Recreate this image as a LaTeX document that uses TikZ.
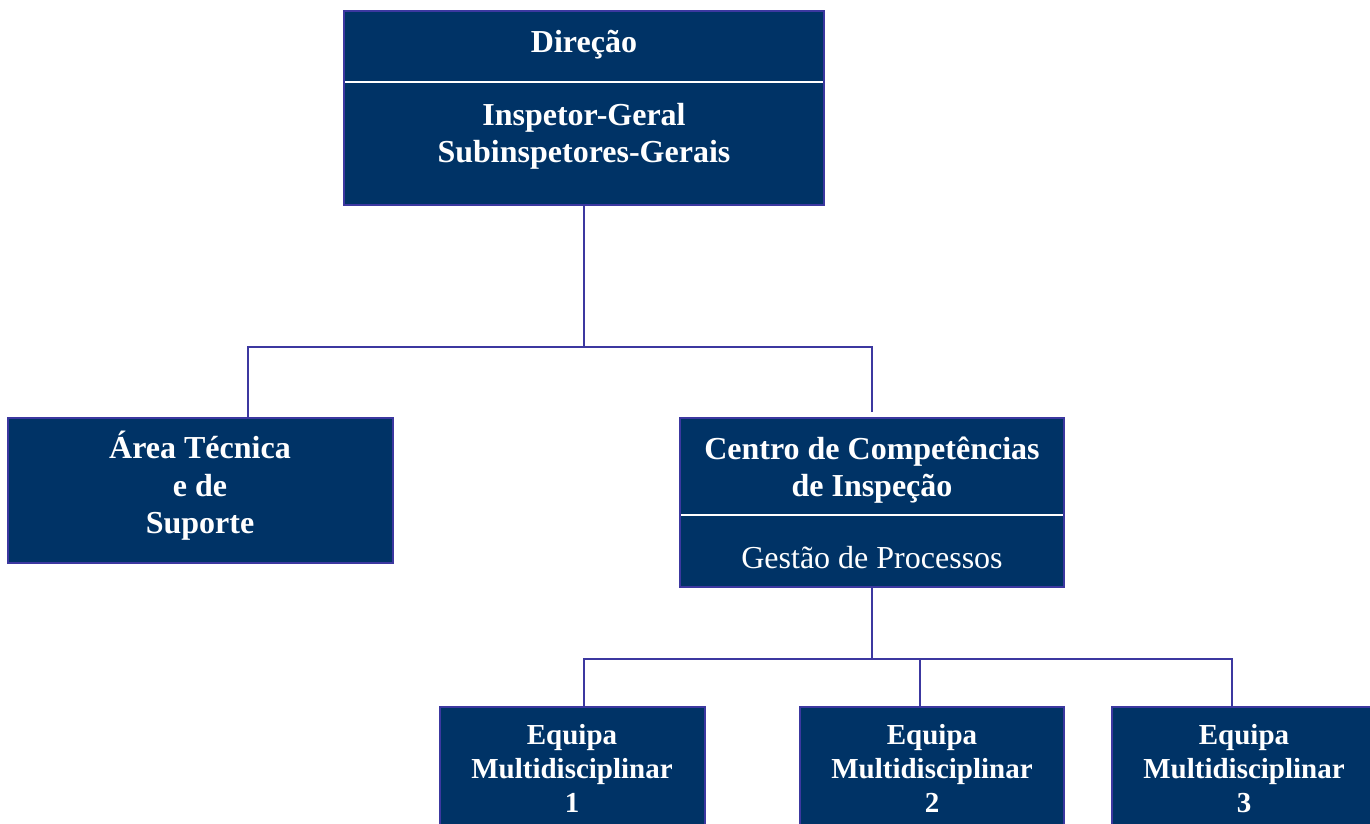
\documentclass[tikz,border=0pt]{standalone}
\usepackage{fontspec}
\setmainfont{Liberation Serif}
\definecolor{boxfill}{RGB}{0,51,102}
\definecolor{boxline}{RGB}{60,56,160}
\tikzset{
  box/.style={draw=boxline, line width=1.8pt, fill=boxfill, inner sep=0pt, outer sep=0pt, anchor=north west},
  lbl/.style={text=white, anchor=base, align=center, inner sep=0pt, font=\bfseries\fontsize{32}{37}\selectfont},
  lblreg/.style={text=white, anchor=base, align=center, inner sep=0pt, font=\fontsize{32}{37}\selectfont},
  lblsm/.style={text=white, anchor=base, inner sep=0pt, font=\bfseries\fontsize{29}{34}\selectfont},
  conn/.style={draw=boxline, line width=1.8pt},
  divider/.style={draw=white, line width=1.8pt}
}
\begin{document}
\begin{tikzpicture}[x=1pt, y=-1pt]
\useasboundingbox[fill=white] (0,0) rectangle (1370,823);
\clip (0,0) rectangle (1370,823);
% boxes
\node[box, minimum width=480pt, minimum height=194pt] (dir) at (344,11) {};
\node[box, minimum width=385pt, minimum height=145pt] (area) at (8,418) {};
\node[box, minimum width=384pt, minimum height=169pt] (cen) at (680,418) {};
\node[box, minimum width=265pt, minimum height=140pt] (b1) at (440,707) {};
\node[box, minimum width=264pt, minimum height=140pt] (b2) at (800,707) {};
\node[box, minimum width=264pt, minimum height=140pt] (b3) at (1112,707) {};
% dividers
\draw[divider] ([xshift=1pt]dir.west |- 0,82) -- ([xshift=-1pt]dir.east |- 0,82);
\draw[divider] ([xshift=1pt]cen.west |- 0,515) -- ([xshift=-1pt]cen.east |- 0,515);
% texts
\node[lbl] (tdir) at (584,52) {Direção};
\node[lbl] (tig) at (584,125) {Inspetor-Geral};
\node[lbl] (tsig) at (584,162) {Subinspetores-Gerais};
\node[lbl] (ta1) at (200,458) {Área Técnica};
\node[lbl] (ta2) at (200,496) {e de};
\node[lbl] (ta3) at (200,533) {Suporte};
\node[lbl] (tc1) at (872,459) {Centro de Competências};
\node[lbl] (tc2) at (872,496) {de Inspeção};
\node[lblreg] (tc3) at (872,568) {Gestão de Processos};
\foreach \n/\cx in {1/572, 2/932, 3/1244}{
  \node[lblsm] (te\n a) at (\cx,744) {Equipa};
  \node[lblsm] (te\n b) at (\cx,778) {Multidisciplinar};
  \node[lblsm] (te\n c) at (\cx,812) {\n};
}
% connectors
\coordinate (j1) at (584,347);
\coordinate (ja) at (248,347);
\coordinate (jc) at (872,347);
\coordinate (jcend) at (872,412);
\draw[conn] (dir.south) -- (j1);
\draw[conn] (ja |- area.north) -- (ja) -- (jc) -- (jcend);
\coordinate (j2) at (872,659);
\coordinate (p1) at (584,659);
\coordinate (p2) at (920,659);
\coordinate (p3) at (1232,659);
\draw[conn] (cen.south) -- (j2);
\draw[conn] (p1 |- b1.north) -- (p1) -- (p3) -- (p3 |- b3.north);
\draw[conn] (p2) -- (p2 |- b2.north);
\end{tikzpicture}
\end{document}
